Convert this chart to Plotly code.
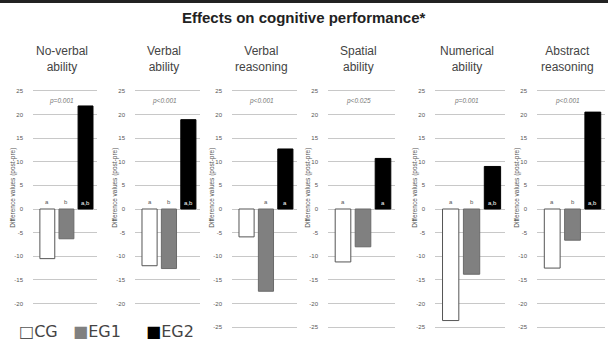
import plotly.graph_objects as go

# Domains and labels
domains = ["No-verbal<br>ability", "Verbal<br>ability", "Verbal<br>reasoning",
           "Spatial<br>ability", "Numerical<br>ability", "Abstract<br>reasoning"]
groups = ["CG", "EG1", "EG2"]

# Difference values (post - pre) per group and domain
cg_values = [-10.5, -12.0, -5.9, -11.2, -23.6, -12.5]
eg1_values = [-6.3, -12.6, -17.4, -8.0, -13.8, -6.6]
eg2_values = [21.8, 18.9, 12.7, 10.7, 9.0, 20.5]

p_values = ["p=0.001", "p<0.001", "p<0.001", "p<0.025", "p=0.001", "p<0.001"]
# Significance letters: CG, EG1, EG2
letters = [["a", "b", "a,b"], ["a", "b", "a,b"], ["", "a", "a"],
           ["a", "", "a"], ["a", "b", "a,b"], ["a", "b", "a,b"]]

y_ticks = [25, 20, 15, 10, 5, 0, -5, -10, -15, -20, -25]
# the two left panels stop at -20, the legend row sits below them
y_ticks_short = [25, 20, 15, 10, 5, 0, -5, -10, -15, -20]

W, H = 608, 349
x_px = [(33, 97), (135, 200), (232, 297), (328, 395), (435, 505), (537, 605)]
y_dom = [1 - 330 / H, 1 - 88 / H]

fills = {"CG": "white", "EG1": "#808080", "EG2": "black"}
lines = {"CG": "#555555", "EG1": "#6a6a6a", "EG2": "black"}
series = {"CG": cg_values, "EG1": eg1_values, "EG2": eg2_values}

fig = go.Figure()
layout = {}
annotations = []

for i in range(6):
    sfx = "" if i == 0 else str(i + 1)
    xa, ya = "x" + sfx, "y" + sfx
    for g in groups:
        fig.add_trace(go.Bar(
            x=[groups.index(g)], y=[series[g][i]], name=g,
            marker=dict(color=fills[g], line=dict(color=lines[g], width=1)),
            width=0.78, xaxis=xa, yaxis=ya, showlegend=False,
        ))
    ticks = y_ticks_short if i < 2 else y_ticks
    layout["xaxis" + sfx] = dict(
        domain=[x_px[i][0] / W, x_px[i][1] / W], range=[-0.75, 2.6],
        showticklabels=False, showgrid=False, zeroline=False, fixedrange=True,
        anchor=ya,
    )
    layout["yaxis" + sfx] = dict(
        domain=y_dom, range=[-25.6, 25.6], tickvals=ticks,
        ticktext=[str(t) for t in ticks],
        tickfont=dict(size=6, color="#555555"), ticklabelstandoff=9,
        showgrid=True, gridcolor="#c8c8c8", gridwidth=1,
        zeroline=False, showline=False, anchor=xa,
    )
    # Panel title
    annotations.append(dict(
        text=domains[i], xref=xa + " domain", yref="paper",
        x=0.45, y=1 - 42 / H, yanchor="top", showarrow=False,
        font=dict(size=12, color="#444444"), align="center",
    ))
    # p-value
    annotations.append(dict(
        text="<i>" + p_values[i] + "</i>", xref=xa + " domain", yref=ya,
        x=0.45, y=22.8, showarrow=False,
        font=dict(size=6.5, color="#777777"),
    ))
    # y-axis title
    annotations.append(dict(
        text="Difference values (post-pre)", xref=xa + " domain", yref=ya,
        x=0, xshift=-26, y=4.5, textangle=-90, showarrow=False,
        font=dict(size=6.5, color="#555555"),
    ))
    # Significance letters
    for j, g in enumerate(groups):
        lt = letters[i][j]
        if not lt:
            continue
        if g == "EG2":
            annotations.append(dict(
                text=lt, xref=xa, yref=ya, x=j, y=0, yanchor="bottom",
                yshift=1, showarrow=False,
                font=dict(size=6, color="white"),
            ))
        else:
            annotations.append(dict(
                text=lt, xref=xa, yref=ya, x=j, y=0, yanchor="bottom",
                yshift=2, showarrow=False,
                font=dict(size=6, color="#555555"),
            ))

# Legend row: swatch glyph + group name
legend_items = [("□", "#555555", "CG", 17),
                ("■", "#808080", "EG1", 71),
                ("■", "black", "EG2", 144)]
for glyph, col, name, xpx in legend_items:
    annotations.append(dict(
        text="<span style='color:%s'>%s</span>%s" % (col, glyph, name),
        xref="paper", yref="paper", x=xpx / W, y=1 - 331 / H,
        xanchor="left", yanchor="middle", showarrow=False,
        font=dict(size=16, color="#444444", family="DejaVu Sans"),
    ))

# Title
annotations.append(dict(
    text="<b>Effects on cognitive performance*</b>", xref="paper", yref="paper",
    x=0.5, y=1 - 17 / H, yanchor="middle", showarrow=False,
    font=dict(size=15, color="#222222"),
))

fig.update_layout(
    **layout,
    width=W, height=H,
    margin=dict(l=0, r=0, t=0, b=0),
    paper_bgcolor="white", plot_bgcolor="white",
    font=dict(family="Liberation Sans, Arial, sans-serif"),
    barmode="overlay",
    annotations=annotations,
    showlegend=False,
    shapes=[
        dict(type="rect", xref="paper", yref="paper",
             x0=0, x1=1, y0=1 - 3 / H, y1=1,
             fillcolor="#222222", line=dict(width=0)),
    ],
)

fig.write_html("out.html")
